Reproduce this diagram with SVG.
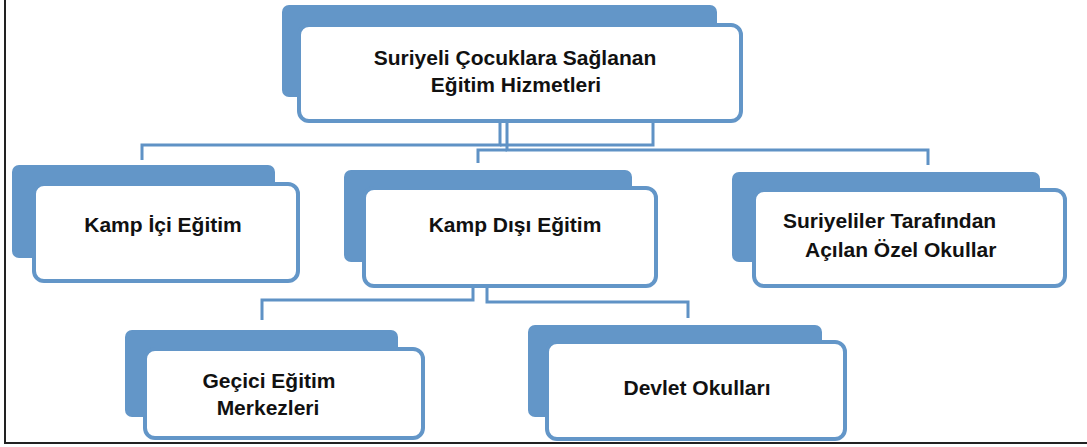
<svg xmlns="http://www.w3.org/2000/svg" width="1087" height="447" viewBox="0 0 1087 447">
<style>
.shadow{fill:#6396C8;}
.front{fill:#ffffff;stroke:#6396C8;stroke-width:4;}
.conn{fill:none;stroke:#5F92C5;stroke-width:3;}
.lbl{font-family:"Liberation Sans",Arial,sans-serif;font-weight:bold;font-size:21px;fill:#111111;}
</style>
<rect x="0" y="0" width="1087" height="447" fill="#ffffff"/>
<path d="M5,0 V443 H1087" fill="none" stroke="#222222" stroke-width="2"/>
<g id="connectors">
<path class="conn" d="M500,123 V145 H142 V160"/>
<path class="conn" d="M500,145 H653 V123"/>
<path class="conn" d="M507,123 V150 H928 V165"/>
<path class="conn" d="M507,150 H478 V163"/>
<path class="conn" d="M473,288 V300 H262 V320"/>
<path class="conn" d="M487,288 V302 H688 V318"/>
</g>
<g id="node-root">
<rect class="shadow" x="282" y="5" width="435" height="92" rx="7"/>
<rect class="front" x="299" y="25" width="442" height="96" rx="10"/>
<text class="lbl" x="515" y="65" text-anchor="middle">Suriyeli Çocuklara Sağlanan</text>
<text class="lbl" x="516" y="92" text-anchor="middle">Eğitim Hizmetleri</text>
</g>
<g id="node-kamp-ici">
<rect class="shadow" x="12" y="165" width="263" height="93" rx="7"/>
<rect class="front" x="34" y="184" width="264" height="97" rx="10"/>
<text class="lbl" x="163" y="232" text-anchor="middle">Kamp İçi Eğitim</text>
</g>
<g id="node-kamp-disi">
<rect class="shadow" x="344" y="170" width="288" height="92" rx="7"/>
<rect class="front" x="364" y="188" width="292" height="98" rx="10"/>
<text class="lbl" x="515" y="232" text-anchor="middle">Kamp Dışı Eğitim</text>
</g>
<g id="node-ozel-okullar">
<rect class="shadow" x="732" y="172" width="308" height="90" rx="7"/>
<rect class="front" x="754" y="190" width="311" height="96" rx="10"/>
<text class="lbl" x="783" y="228">Suriyeliler Tarafından</text>
<text class="lbl" x="805" y="257">Açılan Özel Okullar</text>
</g>
<g id="node-gecici">
<rect class="shadow" x="125" y="330" width="273" height="87" rx="7"/>
<rect class="front" x="145" y="349" width="278" height="89" rx="10"/>
<text class="lbl" x="269" y="388" text-anchor="middle">Geçici Eğitim</text>
<text class="lbl" x="268" y="415" text-anchor="middle">Merkezleri</text>
</g>
<g id="node-devlet">
<rect class="shadow" x="528" y="325" width="294" height="92" rx="7"/>
<rect class="front" x="547" y="342" width="298" height="97" rx="10"/>
<text class="lbl" x="697" y="395" text-anchor="middle">Devlet Okulları</text>
</g>
</svg>
